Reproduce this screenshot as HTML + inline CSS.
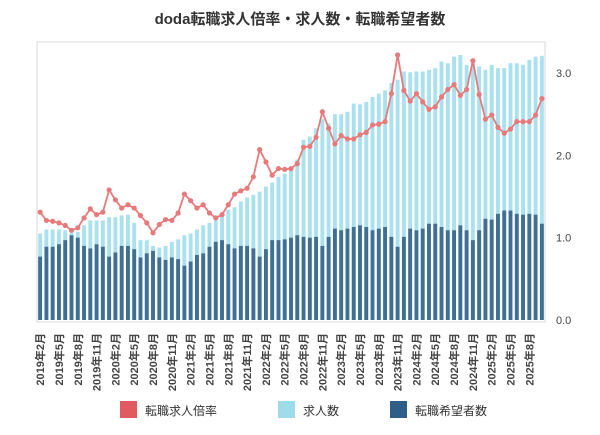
<!DOCTYPE html>
<html><head><meta charset="utf-8"><style>
body{margin:0;background:#fff;width:600px;height:430px;overflow:hidden;font-family:"Liberation Sans","Noto Sans CJK JP",sans-serif}
</style></head><body>
<svg id="chart" width="600" height="430" xmlns="http://www.w3.org/2000/svg" font-family="Liberation Sans, Noto Sans CJK JP, sans-serif"></svg>
<script>
const ratio=[1.31,1.21,1.20,1.18,1.15,1.09,1.12,1.24,1.35,1.28,1.31,1.58,1.46,1.36,1.40,1.36,1.27,1.18,1.06,1.16,1.22,1.21,1.30,1.53,1.45,1.36,1.40,1.30,1.24,1.28,1.40,1.53,1.57,1.60,1.74,2.07,1.92,1.76,1.84,1.83,1.84,1.90,
2.10,2.11,2.22,2.53,2.33,2.14,2.24,2.20,2.20,2.25,2.28,2.37,2.38,2.41,2.75,3.22,2.79,2.66,2.75,2.65,2.56,2.59,2.71,2.80,2.86,2.73,2.80,3.15,2.74,2.44,2.49,2.34,2.27,2.32,2.41,2.41,2.41,2.49,2.69];
const offers=[1.05,1.10,1.10,1.10,1.09,1.06,1.07,1.15,1.21,1.21,1.21,1.25,1.25,1.27,1.28,1.18,0.97,0.97,0.90,0.88,0.90,0.95,0.98,1.03,1.05,1.10,1.15,1.18,1.21,1.28,1.34,1.37,1.44,1.49,1.52,1.56,1.62,1.67,1.74,1.78,1.84,1.95,
2.19,2.23,2.33,2.44,2.39,2.50,2.50,2.53,2.63,2.62,2.65,2.71,2.75,2.79,2.88,2.92,3.02,3.01,3.02,3.02,3.04,3.06,3.14,3.12,3.20,3.22,3.10,3.12,3.08,3.04,3.10,3.06,3.06,3.12,3.12,3.10,3.16,3.20,3.21];
const seekers=[0.77,0.89,0.89,0.92,0.97,1.03,1.00,0.90,0.87,0.92,0.89,0.77,0.82,0.90,0.90,0.86,0.76,0.81,0.84,0.76,0.73,0.76,0.74,0.66,0.71,0.79,0.81,0.89,0.95,0.97,0.92,0.87,0.90,0.90,0.87,0.77,0.86,0.97,0.97,0.98,1.00,1.03,
1.01,1.00,1.01,0.90,1.01,1.11,1.09,1.11,1.13,1.15,1.13,1.09,1.11,1.13,1.01,0.89,1.01,1.11,1.09,1.11,1.17,1.17,1.13,1.09,1.09,1.15,1.09,0.97,1.09,1.23,1.22,1.29,1.33,1.33,1.29,1.28,1.29,1.28,1.17];
const yTicks=[0,1,2,3];
const startYear=2019, startMonth=2;
const svg=document.getElementById('chart');
const NS='http://www.w3.org/2000/svg';
function mk(t,a,p){const e=document.createElementNS(NS,t);for(const k in a)e.setAttribute(k,a[k]);(p||svg).appendChild(e);return e;}
const L=37,R=545,T=42,B=322;
const n=ratio.length;
const step=(R-L)/n;
const xs=i=>L+step*(i+0.5);
const ys=v=>320-v*82.3;
const t=mk('text',{x:300,y:24,'text-anchor':'middle','font-size':15,'font-weight':'bold',fill:'#333'});

t.textContent='doda転職求人倍率・求人数・転職希望者数';
const frame=mk('rect',{x:L,y:T,width:R-L,height:B-T,fill:'none',stroke:'#d9d9d9'});

yTicks.forEach(v=>{const tx=mk('text',{x:556,y:ys(v)+4,'font-size':11,fill:'#444'});
tx.textContent=v.toFixed(1);});
const bw=step*0.62;
offers.forEach((v,i)=>{const r=mk('rect',{x:xs(i)-bw/2,y:ys(v),width:bw,height:ys(0)-ys(v),fill:'#a9e1ee'});
});
seekers.forEach((v,i)=>{const r=mk('rect',{x:xs(i)-bw/2,y:ys(v),width:bw,height:ys(0)-ys(v),fill:'#3f6f93'});
});
const ln=mk('polyline',{points:ratio.map((v,i)=>xs(i)+','+ys(v)).join(' '),fill:'none',stroke:'#e77a7a','stroke-width':1.8});

ratio.forEach((v,i)=>{const c=mk('circle',{cx:xs(i),cy:ys(v),r:2.6,fill:'#e77a7a'});
});
for(let i=0;i<n;i+=3){const m0=startMonth-1+i;const yr=startYear+Math.floor(m0/12);const mo=m0%12+1;
const x=xs(i)+4;const tx=mk('text',{x:0,y:0,transform:`translate(${x},333) rotate(-90)`,'text-anchor':'end','font-size':11,'font-weight':'bold',fill:'#444'});
tx.textContent=yr+'年'+mo+'月';}
const leg=[['転職求人倍率','#e05a5f',120],['求人数','#9fdcea',278],['転職希望者数','#2f5f88',390]];
leg.forEach(([name,col,x])=>{const g=mk('g',{});
mk('rect',{x:x,y:401,width:17,height:17,fill:col},g);
const tx=mk('text',{x:x+25,y:415,'font-size':12,fill:'#333'},g);tx.textContent=name;});
</script>
</body></html>
